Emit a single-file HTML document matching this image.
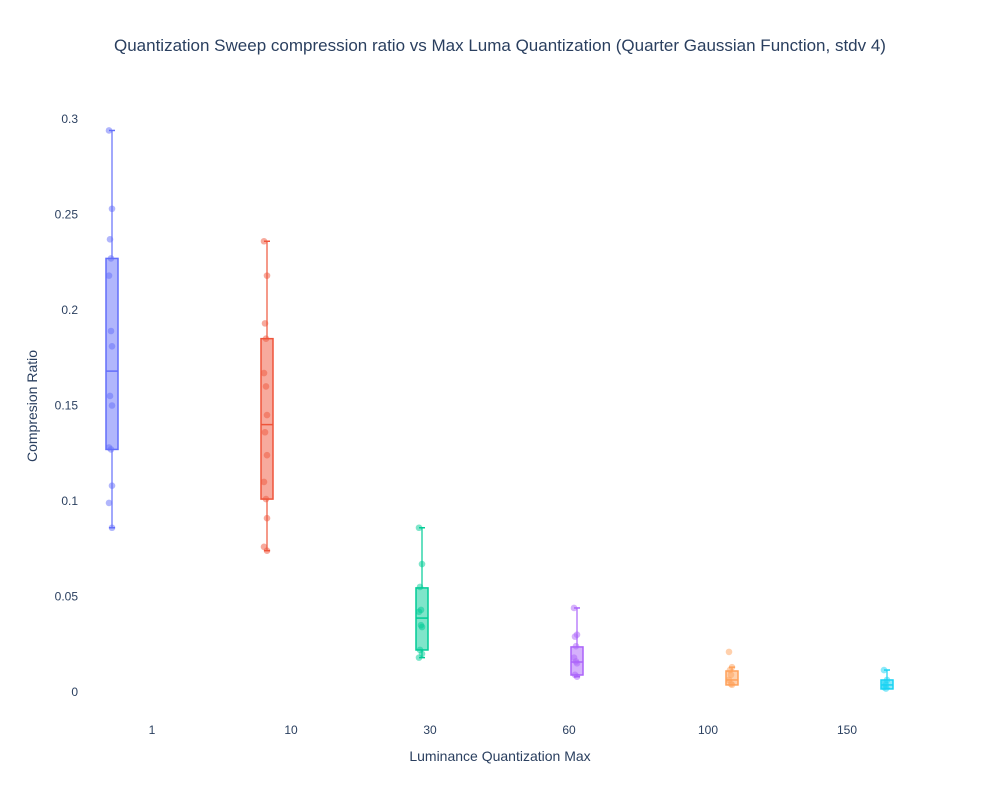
<!DOCTYPE html>
<html><head><meta charset="utf-8"><style>
body{margin:0;background:#fff;}
svg{font-family:"Liberation Sans",sans-serif;}
</style></head><body>
<svg id="chart" width="1000" height="800">
<text x="500" y="51" text-anchor="middle" font-size="17" fill="#2a3f5f">Quantization Sweep compression ratio vs Max Luma Quantization (Quarter Gaussian Function, stdv 4)</text>
<text x="500" y="761" text-anchor="middle" font-size="14" fill="#2a3f5f">Luminance Quantization Max</text>
<text transform="translate(37,406) rotate(-90)" text-anchor="middle" font-size="14" fill="#2a3f5f">Compresion Ratio</text>
<g id="yt"></g>
<g id="xt"></g>
<g id="plot"></g>
</svg>
<script>
const categories = ["1","10","30","60","100","150"];
const yTicks = [0,0.05,0.1,0.15,0.2,0.25,0.3];
const yTickLabels = ["0","0.05","0.1","0.15","0.2","0.25","0.3"];
const points0 = [0.294,0.253,0.237,0.227,0.218,0.189,0.181,0.155,0.150,0.128,0.127,0.108,0.099,0.086];
const points1 = [0.236,0.218,0.193,0.185,0.167,0.160,0.145,0.136,0.124,0.110,0.101,0.091,0.076,0.074];
const points2 = [0.086,0.067,0.055,0.043,0.042,0.035,0.034,0.022,0.020,0.018];
const points3 = [0.044,0.030,0.029,0.024,0.018,0.016,0.015,0.009,0.008];
const points4 = [0.021,0.013,0.0115,0.009,0.0063,0.0042,0.0038];
const points5 = [0.0115,0.0063,0.005,0.0037,0.0025,0.0018];
const q1 = [0.127,0.101,0.022,0.0089,0.0037,0.0016];
const medians = [0.168,0.140,0.0387,0.0157,0.0063,0.0037];
const q3 = [0.227,0.185,0.0545,0.0236,0.011,0.0063];
const whiskLow = [0.086,0.074,0.018,0.008,0.0038,0.0018];
const whiskHigh = [0.294,0.236,0.086,0.044,0.013,0.0115];
const allPoints = [points0,points1,points2,points3,points4,points5];
const colors = ["#636efa","#EF553B","#00cc96","#ab63fa","#FFA15A","#19d3f3"];
const NS="http://www.w3.org/2000/svg";
function yS(v){return 692 - v*1910;}
function xS(i){return 152 + i*139;}
function off(i){return -40 + i*16;}
function mk(t,a,p){const e=document.createElementNS(NS,t);for(const k in a)e.setAttribute(k,a[k]);p.appendChild(e);return e;}
const yt=document.getElementById('yt'), xt=document.getElementById('xt'), plot=document.getElementById('plot');
yTicks.forEach((v,i)=>{
  const t=mk('text',{x:78,y:yS(v)+4,'text-anchor':'end','font-size':12,fill:'#2a3f5f'},yt);
  t.textContent=yTickLabels[i];
  
  
});
categories.forEach((c,i)=>{
  const t=mk('text',{x:xS(i),y:734,'text-anchor':'middle','font-size':12,fill:'#2a3f5f'},xt);
  t.textContent=c;
  
  
});
const jit=[-2,1,-1,0,-2,0,1,-1,1,-2,0,1,-2,1];
allPoints.forEach((pts,i)=>{
  const cx=xS(i)+off(i), col=colors[i], w=7;
  const g=mk('g',{},plot);
  
  
  mk('line',{x1:cx,x2:cx,y1:yS(whiskHigh[i]),y2:yS(q3[i]),stroke:col,'stroke-width':1.5,'stroke-opacity':0.8},g);
  mk('line',{x1:cx,x2:cx,y1:yS(q1[i]),y2:yS(whiskLow[i]),stroke:col,'stroke-width':1.5,'stroke-opacity':0.8},g);
  mk('line',{x1:cx-3,x2:cx+3,y1:yS(whiskHigh[i]),y2:yS(whiskHigh[i]),stroke:col,'stroke-width':1.5},g);
  mk('line',{x1:cx-3,x2:cx+3,y1:yS(whiskLow[i]),y2:yS(whiskLow[i]),stroke:col,'stroke-width':1.5},g);
  const r=mk('rect',{x:cx-w+1,y:yS(q3[i]),width:2*w-2,height:Math.max(1,yS(q1[i])-yS(q3[i])),fill:col,'fill-opacity':0.5,stroke:col,'stroke-width':1.5},g);
  
  
  mk('line',{x1:cx-w+1,x2:cx+w-1,y1:yS(medians[i]),y2:yS(medians[i]),stroke:col,'stroke-width':1.5},g);
  pts.forEach((v,j)=>{
    const p=mk('circle',{cx:cx-1+jit[j%jit.length],cy:yS(v),r:3.3,fill:col,'fill-opacity':0.5},g);
    
    
  });
});
</script>
</body></html>
